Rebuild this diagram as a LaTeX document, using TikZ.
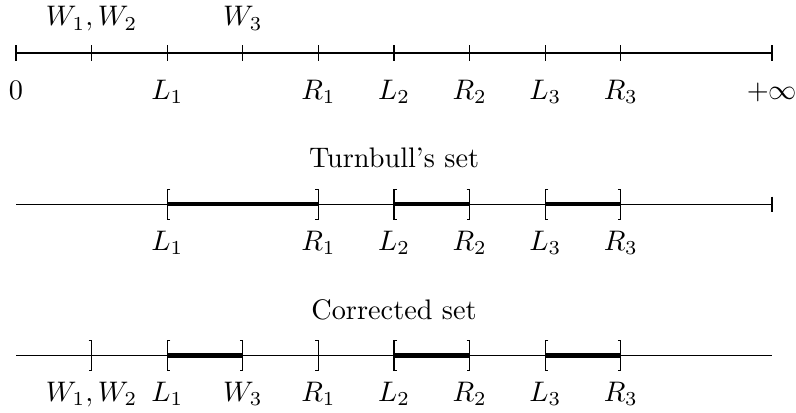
\documentclass[tikz,border=0pt]{standalone}
\usepackage{amsmath,amssymb}
\usepackage{tikz}

\begin{document}
\begin{tikzpicture}[
  x=0.94cm, y=0.94cm,
  lbl/.style={anchor=base, inner sep=0pt},
  seg/.style={line width=1.6pt},
  tck/.style={line width=0.4pt},
  brk/.style={line width=0.4pt}
]
\useasboundingbox (-0.212,-4.749) rectangle (10.317,0.701);

% the three lines
\foreach \x in {0,...,8} {
  \coordinate (a\x) at (\x,0);
  \coordinate (t\x) at (\x,-2);
  \coordinate (c\x) at (\x,-4);
}
\coordinate (a10) at (10,0);
\coordinate (t10) at (10,-2);
\coordinate (c10) at (10,-4);

\draw (a0) -- (a10);
\draw (t0) -- (t10);
\draw (c0) -- (c10);

% ticks
\foreach \p in {a0,a1,a2,a3,a4,a5,a6,a7,a8,a10,t10}
  \draw[tck] (\p) ++(0,0.1) -- ++(0,-0.2);

% labels of the first line
\foreach \x/\t/\n in {0/0/z, 2/L_1/l1, 4/R_1/r1, 5/L_2/l2, 6/R_2/r2, 7/L_3/l3, 8/R_3/r3, 10/+\infty/inf}
  \node[lbl] (a-\n) at (\x,-0.61) {$\t$};
\node[lbl] (a-w12) at (1,0.36) {$W_1,W_2$};
\node[lbl] (a-w3) at (3,0.36) {$W_3$};

% Turnbull's set
\node[lbl] (tt) at (5,-1.51) {Turnbull's set};
\draw[seg] (t2) -- (t4);
\draw[seg] (t5) -- (t6);
\draw[seg] (t7) -- (t8);
\foreach \p in {t2,t5,t7}
  \draw[brk] (\p) ++(0.04,0.2) -- ++(-0.04,0) |- ++(0.04,-0.4);
\foreach \p in {t4,t6,t8}
  \draw[brk] (\p) ++(-0.04,0.2) -- ++(0.04,0) |- ++(-0.04,-0.4);
\foreach \x/\t/\n in {2/L_1/l1, 4/R_1/r1, 5/L_2/l2, 6/R_2/r2, 7/L_3/l3, 8/R_3/r3}
  \node[lbl] (t-\n) at (\x,-2.61) {$\t$};

% Corrected set
\node[lbl] (ct) at (5,-3.52) {Corrected set};
\draw[seg] (c2) -- (c3);
\draw[seg] (c5) -- (c6);
\draw[seg] (c7) -- (c8);
\foreach \p in {c2,c5,c7}
  \draw[brk] (\p) ++(0.04,0.2) -- ++(-0.04,0) |- ++(0.04,-0.4);
\foreach \p in {c1,c3,c4,c6,c8}
  \draw[brk] (\p) ++(-0.04,0.2) -- ++(0.04,0) |- ++(-0.04,-0.4);
\foreach \x/\t/\n in {1/{W_1,W_2}/w12, 2/L_1/l1, 3/W_3/w3, 4/R_1/r1, 5/L_2/l2, 6/R_2/r2, 7/L_3/l3, 8/R_3/r3}
  \node[lbl] (c-\n) at (\x,-4.61) {$\t$};
\end{tikzpicture}
\end{document}
